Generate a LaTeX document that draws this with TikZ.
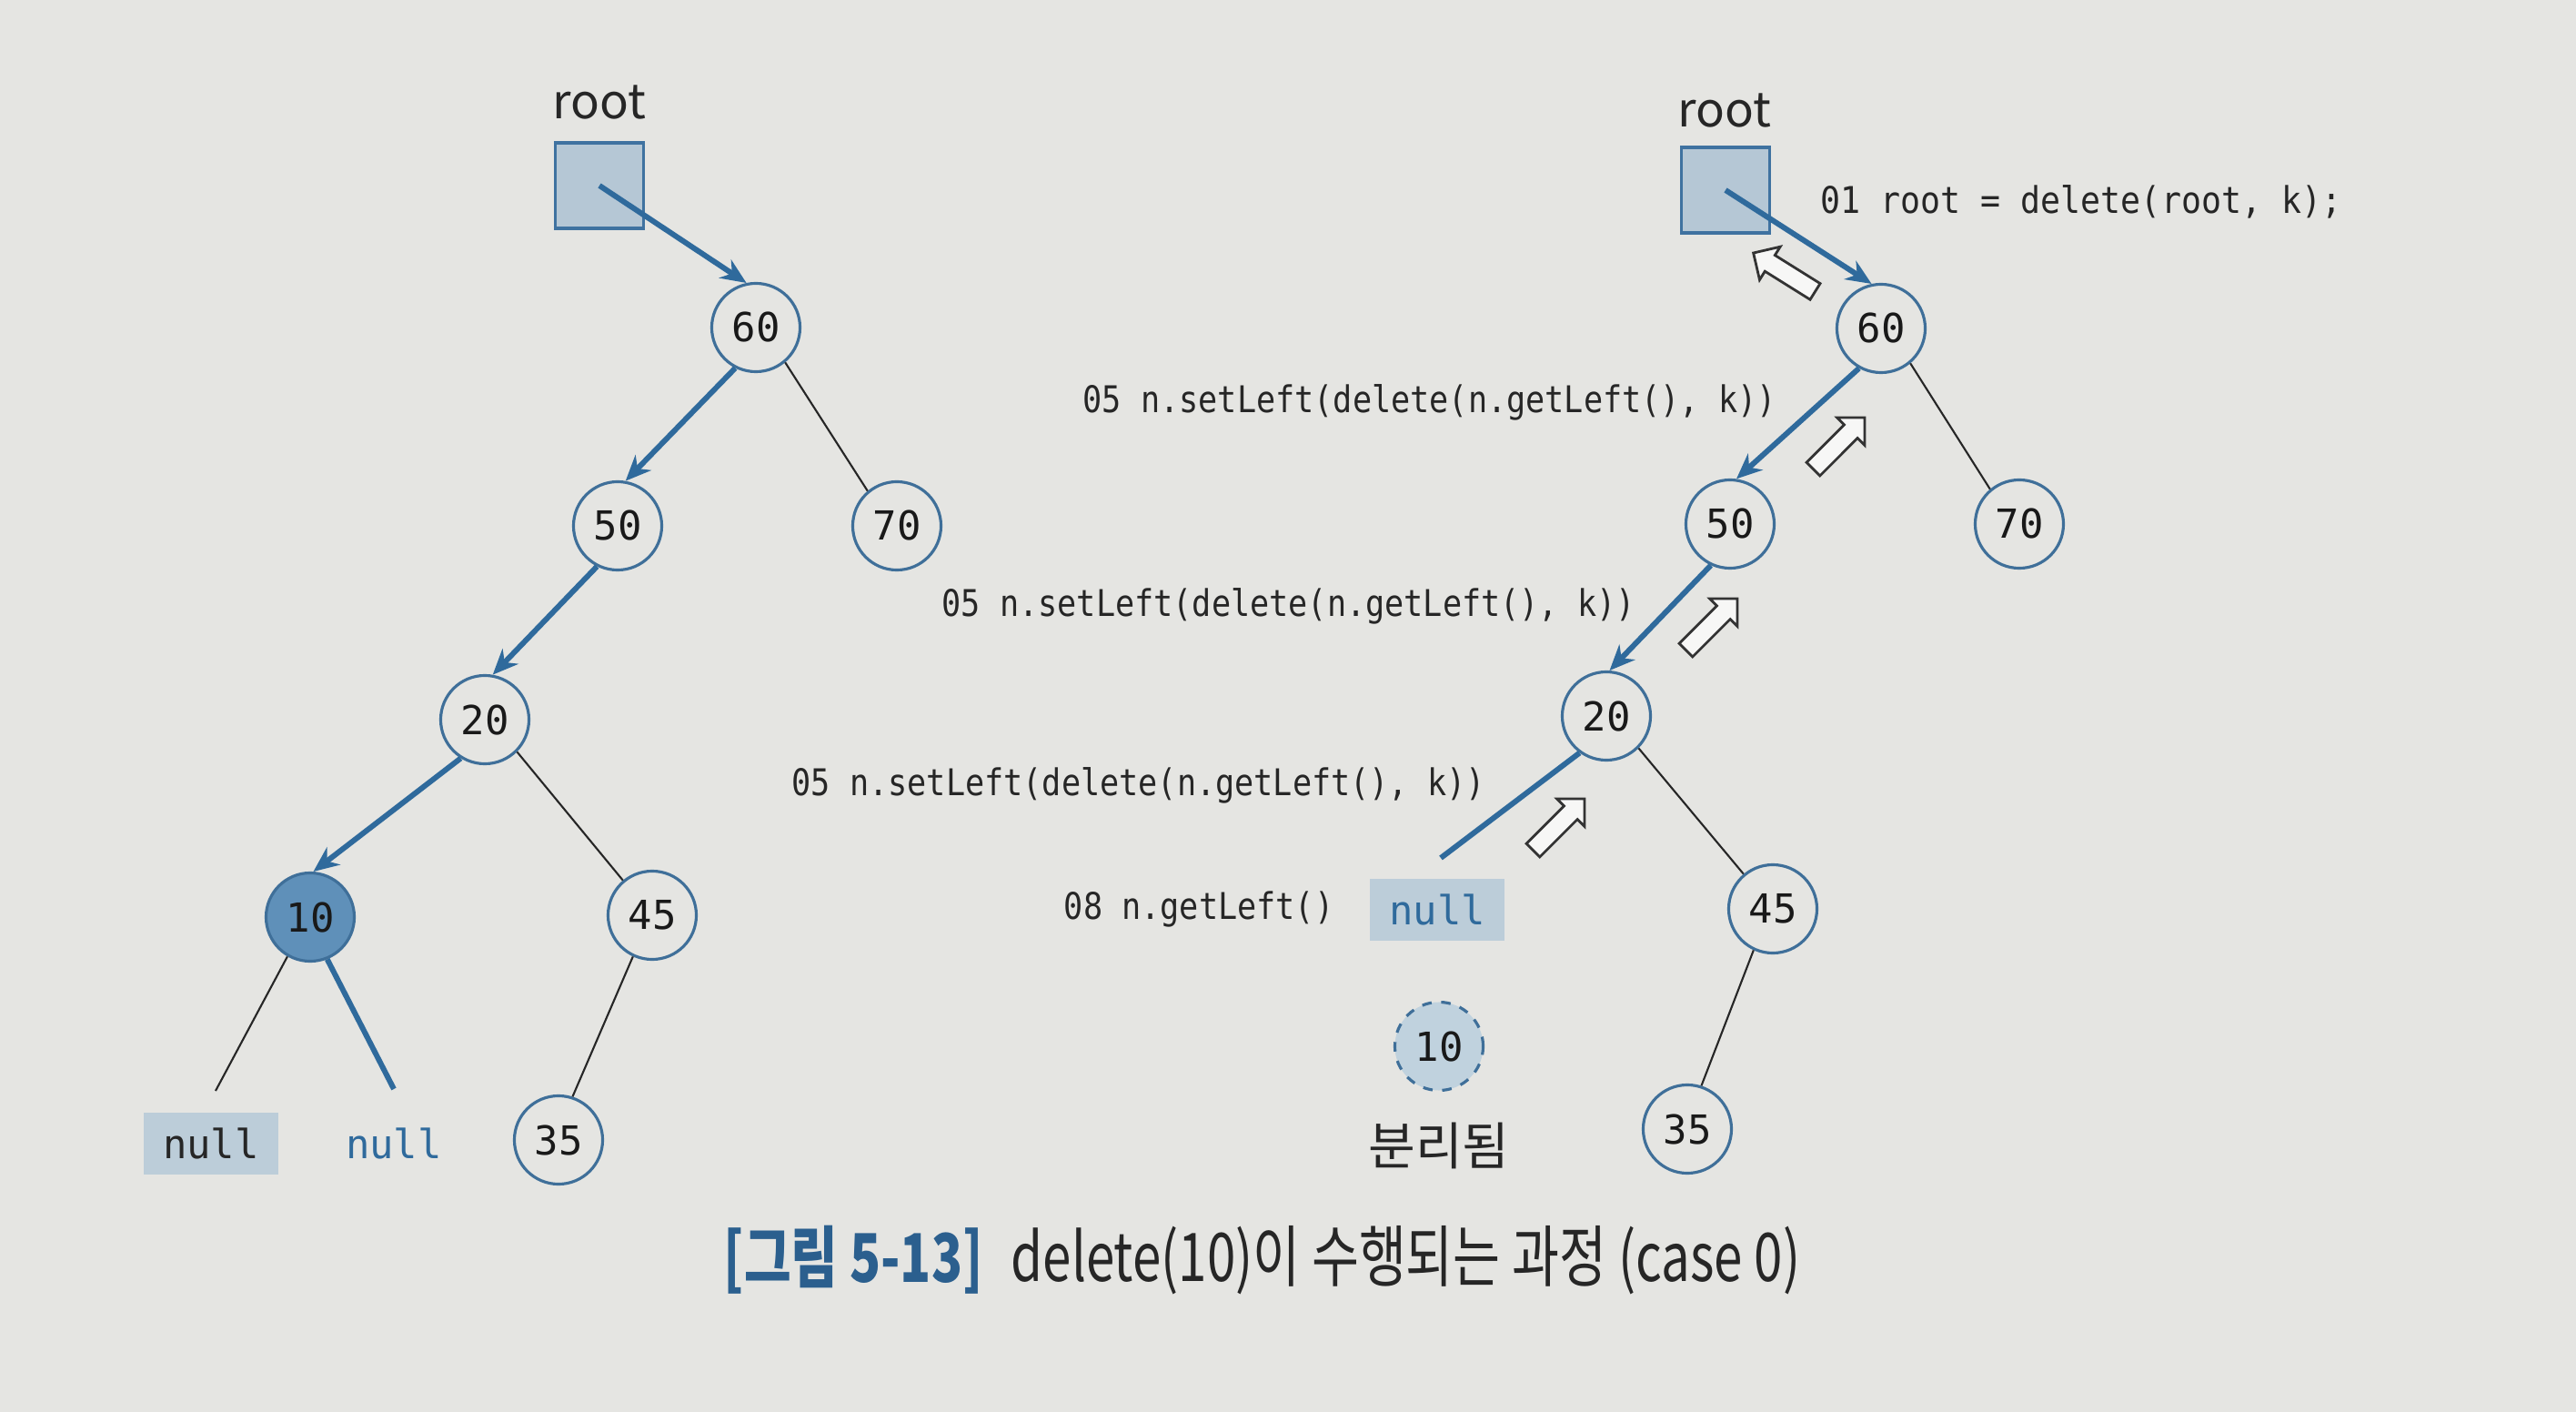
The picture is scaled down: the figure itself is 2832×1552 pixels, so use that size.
\documentclass[tikz,border=0pt]{standalone}
\usepackage{fontspec}
\usepackage{graphicx}
\setmainfont{Noto Sans CJK KR}
\setmonofont{DejaVu Sans Mono}
\newfontfamily\krfont{Noto Sans CJK KR}
\usetikzlibrary{arrows.meta,shapes.arrows}
\definecolor{bg}{HTML}{E5E5E2}
\definecolor{eblue}{HTML}{2F6A9C}
\definecolor{cborder}{HTML}{3F6F99}
\definecolor{rfill}{HTML}{B5C7D5}
\definecolor{rborder}{HTML}{3F72A0}
\definecolor{nfill}{HTML}{BCCDD9}
\definecolor{tenfill}{HTML}{5F90B9}
\definecolor{dashfill}{HTML}{C0D2DE}
\definecolor{capblue}{HTML}{2B5F8E}
\newcommand{\codetext}[1]{\scalebox{1}[1.15]{#1}}
\tikzset{
  circ/.style={circle, draw=cborder, line width=0.9pt, fill=bg, minimum size=0.97cm, inner sep=0pt, font=\ttfamily\fontsize{12.5}{14}\selectfont, text=black!90},
  blueedge/.style={draw=eblue, line width=1.7pt},
  bluearrow/.style={blueedge, -{Stealth[length=0.28cm,width=0.24cm]}},
  thinedge/.style={draw=black!85, line width=0.6pt},
  rootbox/.style={rectangle, draw=rborder, line width=1.1pt, fill=rfill, minimum width=0.97cm, minimum height=0.94cm},
  rootlbl/.style={font=\krfont\fontsize{15}{17}\selectfont, text=black!85, inner sep=0pt},
  codetxt/.style={font=\ttfamily\fontsize{10}{12}\selectfont, text=black!85, inner sep=0pt},
  nullbox/.style={rectangle, fill=nfill, minimum width=1.48cm, minimum height=0.68cm, inner sep=0pt, font=\ttfamily\fontsize{12.5}{14}\selectfont},
  hollow/.style={single arrow, draw=black!80, fill=white!70!bg, line width=0.8pt, minimum height=0.8cm, single arrow head extend=0.11cm, single arrow head indent=0cm, inner sep=0.09cm}
}
\begin{document}
\begin{tikzpicture}[x=0.01cm, y=-0.01cm]
\useasboundingbox (0,0) rectangle (2832,1552);
\fill[bg] (0,0) rectangle (2832,1552);

% ---------- left tree ----------
\node[rootlbl] (rootLlbl) at (659,112) {root};
\node[rootbox] (rootL) at (659,204) {};
\node[circ] (n60L) at (831,360) {60};
\node[circ] (n50L) at (679,578) {50};
\node[circ] (n70L) at (986,578) {70};
\node[circ] (n20L) at (533,791) {20};
\node[circ, fill=tenfill] (n10L) at (341,1008) {10};
\node[circ] (n45L) at (717,1006) {45};
\node[circ] (n35L) at (614,1253) {35};
\node[nullbox, text=black!85] (nullLa) at (232,1257) {null};
\node[font=\ttfamily\fontsize{12.5}{14}\selectfont, text=eblue, inner sep=0pt] (nullLb) at (433,1257) {null};
\coordinate (nullLaTop) at (237,1199);
\coordinate (nullLbTop) at (433,1197);

\draw[bluearrow] (rootL.center) -- (n60L.102);
\draw[bluearrow] (n60L.243) -- (n50L.80);
\draw[thinedge] (n60L.-50) -- (n70L.130);
\draw[bluearrow] (n50L.243) -- (n20L.80);
\draw[bluearrow] (n20L.238) -- (n10L.86);
\draw[thinedge] (n20L.-45) -- (n45L.130);
\draw[thinedge] (n45L.245) -- (n35L.72);
\draw[thinedge] (n10L.240) -- (nullLaTop);
\draw[blueedge] (n10L.292) -- (nullLbTop);

% ---------- right tree ----------
\node[rootlbl] (rootRlbl) at (1896,121) {root};
\node[rootbox] (rootR) at (1897,209) {};
\node[circ] (n60R) at (2068,361) {60};
\node[circ] (n50R) at (1902,576) {50};
\node[circ] (n70R) at (2220,576) {70};
\node[circ] (n20R) at (1766,787) {20};
\node[circ] (n45R) at (1949,999) {45};
\node[circ] (n35R) at (1855,1241) {35};
\node[nullbox, text=eblue] (nullR) at (1580,1000) {null};
\node[circ, fill=dashfill, dashed] (n10R) at (1582,1150) {10};
\node[font=\krfont\fontsize{16}{18}\selectfont, text=black!85, inner sep=0pt] (sepR) at (1582,1259) {분리됨};
\coordinate (nulltop) at (1584,943);

\draw[bluearrow] (rootR.center) -- (n60R.102);
\draw[bluearrow] (n60R.241) -- (n50R.82);
\draw[thinedge] (n60R.-50) -- (n70R.130);
\draw[bluearrow] (n50R.245) -- (n20R.86);
\draw[blueedge] (n20R.234) -- (nulltop);
\draw[thinedge] (n20R.-45) -- (n45R.130);
\draw[thinedge] (n45R.245) -- (n35R.72);

\node[codetxt, anchor=west] (c01) at (2001,222) {\scalebox{1.04}[1.15]{01 root = delete(root, k);}};
\node[codetxt, anchor=west] (c05a) at (1190,442) {\codetext{05 n.setLeft(delete(n.getLeft(), k))}};
\node[codetxt, anchor=west] (c05b) at (1035,666) {\codetext{05 n.setLeft(delete(n.getLeft(), k))}};
\node[codetxt, anchor=west] (c05c) at (870,863) {\codetext{05 n.setLeft(delete(n.getLeft(), k))}};
\node[codetxt, anchor=east] (c08) at (1467,999) {\codetext{08 n.getLeft()}};

\node[hollow, rotate=148] (h1) at (1966,302) {};
\node[hollow, rotate=45] (h2) at (2018,491) {};
\node[hollow, rotate=45] (h3) at (1878,690) {};
\node[hollow, rotate=45] (h4) at (1710,910) {};

% ---------- caption ----------
\node[anchor=west, inner sep=0pt, text=capblue, font=\krfont\bfseries\fontsize{21}{24}\selectfont] (capA) at (795,1385) {\scalebox{0.76}[1]{[그림 5-13]}};
\node[anchor=west, inner sep=0pt, text=black!85, font=\krfont\fontsize{21}{24}\selectfont] (capB) at (1111,1385) {\scalebox{0.765}[1]{delete(10)이 수행되는 과정 (case 0)}};
\end{tikzpicture}
\end{document}
